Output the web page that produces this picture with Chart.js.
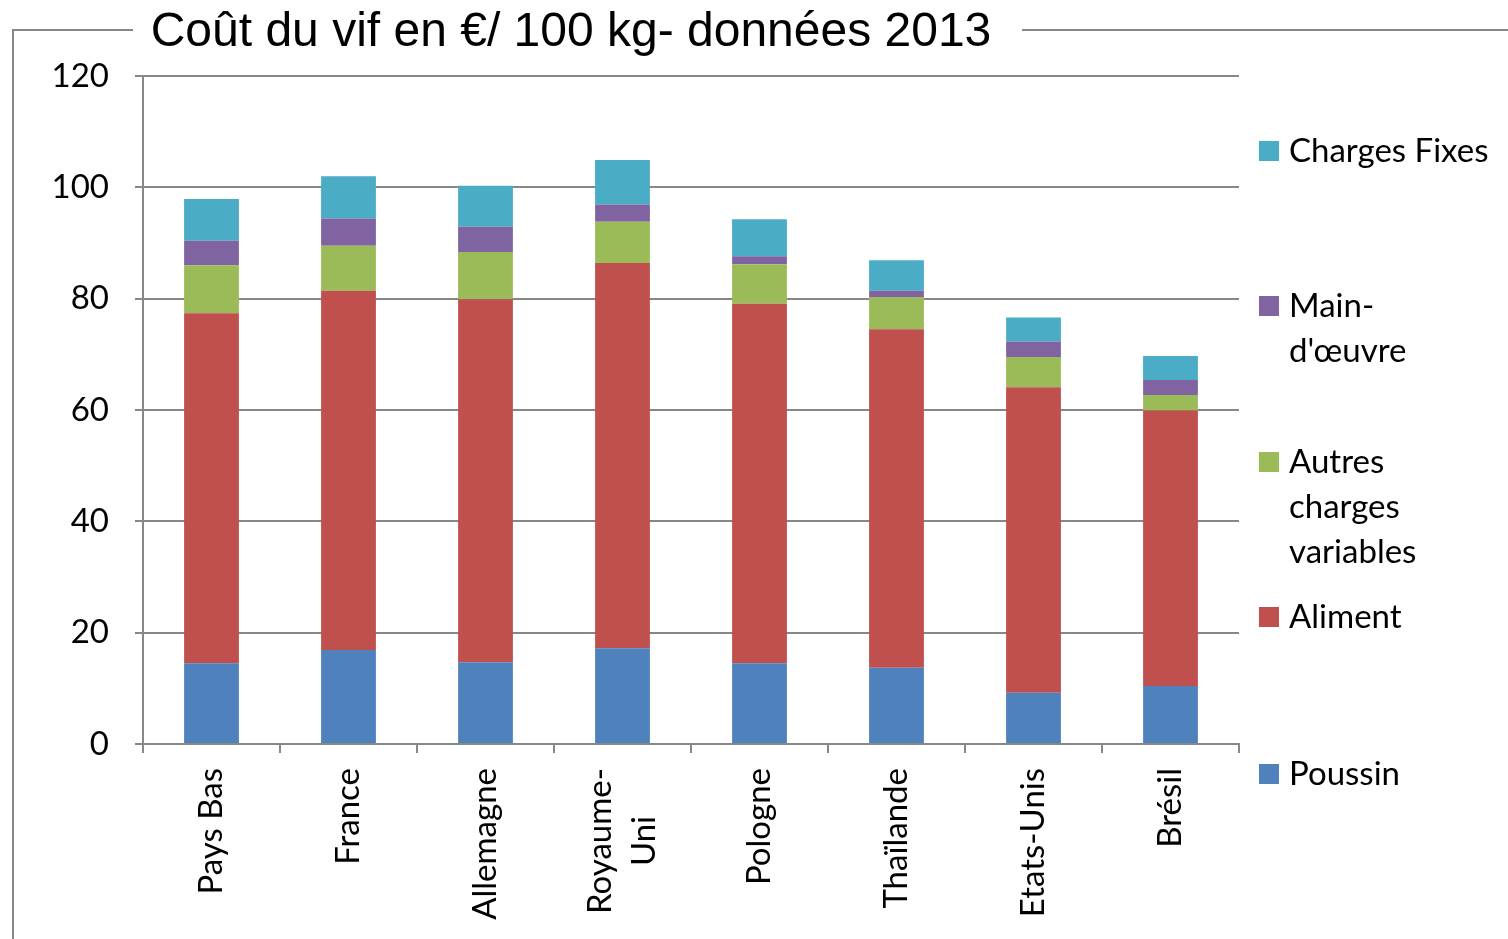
<!DOCTYPE html>
<html>
<head>
<meta charset="utf-8">
<script src="https://cdn.jsdelivr.net/npm/chart.js@4.4.1/dist/chart.umd.min.js"></script>
<style>
  html, body { margin: 0; padding: 0; background: #fff; }
  #wrap { width: 1508px; height: 939px; position: relative; }
</style>
</head>
<body>
<div id="wrap"><canvas id="c" width="1508" height="939"></canvas></div>
<script>
// données
const pays = ['Pays Bas', 'France', 'Allemagne', ['Royaume-', 'Uni'], 'Pologne', 'Thaïlande', 'Etats-Unis', 'Brésil'];
const poussin = [14.5, 16.9, 14.7, 17.2, 14.5, 13.7, 9.2, 10.4];
const aliment = [62.9, 64.5, 65.2, 69.2, 64.6, 60.8, 54.9, 49.5];
const autresCharges = [8.6, 8.1, 8.5, 7.4, 7.1, 5.8, 5.4, 2.8];
const mainOeuvre = [4.4, 4.9, 4.5, 3.1, 1.4, 1.1, 2.8, 2.7];
const chargesFixes = [7.5, 7.6, 7.4, 8.0, 6.65, 5.5, 4.3, 4.3];
const yTicks = [0, 20, 40, 60, 80, 100, 120];

const titre = 'Coût du vif en €/ 100 kg- données 2013';
const fontCal = 'Lato, "Open Sans", sans-serif';
const gris = '#878787';

const series = [
  { label: 'Poussin', data: poussin, color: '#4F81BD', legend: ['Poussin'] },
  { label: 'Aliment', data: aliment, color: '#C0504D', legend: ['Aliment'] },
  { label: 'Autres charges variables', data: autresCharges, color: '#9BBB59', legend: ['Autres', 'charges', 'variables'] },
  { label: "Main-d'œuvre", data: mainOeuvre, color: '#8064A2', legend: ['Main-', "d'œuvre"] },
  { label: 'Charges Fixes', data: chargesFixes, color: '#4BACC6', legend: ['Charges Fixes'] }
];

// cadre, titre, étiquettes des pays et légende façon Excel
const decor = {
  id: 'decor',
  afterDraw(chart) {
    const ctx = chart.ctx;
    ctx.save();
    ctx.strokeStyle = gris;
    ctx.lineWidth = 2;
    ctx.beginPath();
    ctx.moveTo(13, 939); ctx.lineTo(13, 30); ctx.lineTo(133, 30);
    ctx.moveTo(1022, 30); ctx.lineTo(1508, 30);
    ctx.stroke();

    ctx.fillStyle = '#000';
    ctx.font = '48px "Liberation Sans", Arial, sans-serif';
    ctx.textAlign = 'center';
    ctx.textBaseline = 'alphabetic';
    ctx.fillText(titre, 571, 46);

    // étiquettes verticales, lignes centrées entre elles
    const xs = chart.scales.x;
    const top = xs.top + 24;
    ctx.font = '33px ' + fontCal;
    ctx.textBaseline = 'middle';
    pays.forEach((p, i) => {
      const lines = Array.isArray(p) ? p : [p];
      const w = Math.max(...lines.map(l => ctx.measureText(l).width));
      const x0 = xs.getPixelForTick(i);
      lines.forEach((l, k) => {
        const cx = x0 + (k - (lines.length - 1) / 2) * 44;
        ctx.save();
        ctx.translate(cx, top);
        ctx.rotate(-Math.PI / 2);
        ctx.textAlign = 'center';
        ctx.fillText(l, -w / 2, 0);
        ctx.restore();
      });
    });

    // légende (ordre inversé comme dans Excel)
    const rows = [151, 306, 462, 617, 774];
    ctx.textAlign = 'left';
    series.slice().reverse().forEach((s, i) => {
      const y = rows[i];
      ctx.fillStyle = s.color;
      ctx.fillRect(1259, y - 10, 20, 20);
      ctx.fillStyle = '#000';
      s.legend.forEach((l, k) => ctx.fillText(l, 1289, y + k * 45));
    });
    ctx.restore();
  }
};

new Chart(document.getElementById('c'), {
  type: 'bar',
  data: {
    labels: pays,
    datasets: series.map(s => ({
      label: s.label,
      data: s.data,
      backgroundColor: s.color,
      borderWidth: 0,
      categoryPercentage: 1,
      barPercentage: 0.4
    }))
  },
  options: {
    responsive: false,
    animation: false,
    layout: { padding: { left: 0, top: 76, right: 269, bottom: 0 } },
    plugins: {
      legend: { display: false },
      title: { display: false },
      tooltip: { enabled: false }
    },
    scales: {
      x: {
        stacked: true,
        afterFit: (s) => { s.height = 195; },
        grid: { offset: true, drawOnChartArea: false, drawTicks: true, tickLength: 9, color: gris, lineWidth: 2 },
        border: { color: gris, width: 2 },
        ticks: { display: false, autoSkip: false }
      },
      y: {
        stacked: true,
        min: 0, max: 120,
        afterFit: (s) => { s.width = 143; },
        afterBuildTicks: (s) => { s.ticks = yTicks.map(v => ({ value: v })); },
        grid: { color: gris, lineWidth: 2, tickLength: 8 },
        border: { color: gris, width: 2 },
        ticks: {
          padding: 26,
          color: '#000',
          font: { family: fontCal, size: 33 }
        }
      }
    }
  },
  plugins: [decor]
});
</script>
</body>
</html>
